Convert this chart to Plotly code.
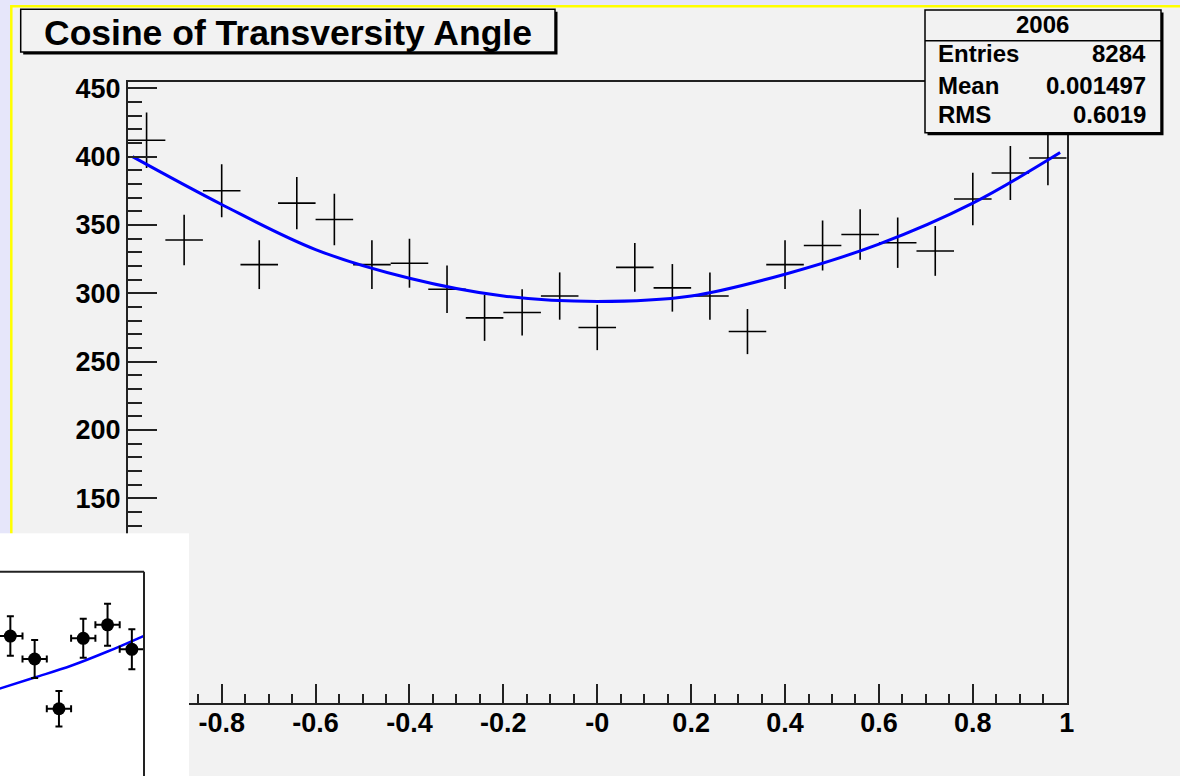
import plotly.graph_objects as go

W, H = 1180, 776


def px(x):
    return x / W


def py(y):
    return 1 - y / H


# ---------------- data ----------------
bin_centers = [-0.96, -0.88, -0.80, -0.72, -0.64, -0.56, -0.48, -0.40, -0.32,
               -0.24, -0.16, -0.08, 0.00, 0.08, 0.16, 0.24, 0.32, 0.40, 0.48,
               0.56, 0.64, 0.72, 0.80, 0.88, 0.96]
counts = [412, 339, 375, 321, 366, 354, 321, 322, 303, 282, 286, 298, 275,
          319, 304, 298, 272, 321, 335, 343, 337, 331, 369, 388, 399]
count_errors = [20.3, 18.4, 19.4, 17.9, 19.1, 18.8, 17.9, 17.9, 17.4, 16.8,
                16.9, 17.3, 16.6, 17.9, 17.4, 17.3, 16.5, 17.9, 18.3, 18.5,
                18.4, 18.2, 19.2, 19.7, 20.0]
bin_half_width = 0.04

fit_x = [-0.99, -0.8, -0.6, -0.4, -0.2, 0.0, 0.2, 0.4, 0.6, 0.8, 0.986]
fit_y = [400, 365, 332, 311, 298, 294, 298, 314, 336, 366, 403]

# labels hidden under the inset box in the reference are left blank
x_tick_vals = [-1, -0.8, -0.6, -0.4, -0.2, 0, 0.2, 0.4, 0.6, 0.8, 1]
x_tick_text = ["", "-0.8", "-0.6", "-0.4", "-0.2", "-0", "0.2", "0.4",
               "0.6", "0.8", "1"]
y_tick_vals = [0, 50, 100, 150, 200, 250, 300, 350, 400, 450]
y_tick_text = ["", "", "", "150", "200", "250", "300", "350", "400", "450"]

title_text = "Cosine of Transversity Angle"
stats_title = "2006"
stats_labels = ["Entries", "Mean", "RMS"]
stats_values = ["8284", "0.001497", "0.6019"]

inset_x = [0.45, 0.55, 0.65, 0.75, 0.85, 0.95]
inset_y = [65.5, 56.3, 36.4, 64.6, 70.0, 60.2]
inset_err = [7.9, 7.6, 7.1, 7.8, 8.4, 8.0]
inset_half_width = 0.05
inset_fit_x = [0.40, 0.55, 0.70, 0.85, 1.0]
inset_fit_y = [44.3, 48.9, 53.6, 59.3, 65.6]

# ---------------- styles ----------------
FONT = "Liberation Sans"
AX = "#222222"
PAD = "#f2f2f2"

fig = go.Figure()

# main histogram (crosses)
fig.add_trace(go.Scatter(
    x=bin_centers, y=counts, mode="markers",
    marker=dict(size=1, color="rgba(0,0,0,0)"),
    error_x=dict(type="constant", value=bin_half_width, width=0,
                 thickness=1.6, color="black"),
    error_y=dict(type="data", array=count_errors, width=0,
                 thickness=1.6, color="black"),
    xaxis="x", yaxis="y", showlegend=False, hoverinfo="skip"))

# main fit curve
fig.add_trace(go.Scatter(
    x=fit_x, y=fit_y, mode="lines",
    line=dict(color="#0000ff", width=3, shape="spline"),
    xaxis="x", yaxis="y", showlegend=False, hoverinfo="skip"))

# inset fit line
fig.add_trace(go.Scatter(
    x=inset_fit_x, y=inset_fit_y, mode="lines",
    line=dict(color="#0000ff", width=2.5, shape="spline"),
    xaxis="x2", yaxis="y2", showlegend=False, hoverinfo="skip"))

# inset points
fig.add_trace(go.Scatter(
    x=inset_x, y=inset_y, mode="markers",
    marker=dict(size=13, color="black"),
    error_x=dict(type="constant", value=inset_half_width, width=3.5,
                 thickness=2, color="black"),
    error_y=dict(type="data", array=inset_err, width=3.5,
                 thickness=2, color="black"),
    xaxis="x2", yaxis="y2", showlegend=False, hoverinfo="skip"))

tickfont = dict(family=FONT, size=27, color="black", weight="bold")

shapes = [
    # pad with yellow border
    dict(type="rect", xref="paper", yref="paper", layer="below",
         x0=px(11.3), x1=px(1200), y0=py(6.2), y1=py(800),
         fillcolor=PAD, line=dict(color="#ffff00", width=2.5)),
    # title box shadow + box
    dict(type="rect", xref="paper", yref="paper", layer="above",
         x0=px(23.2), x1=px(557.5), y0=py(11.8), y1=py(54.5),
         fillcolor="black", line=dict(width=0)),
    dict(type="rect", xref="paper", yref="paper", layer="above",
         x0=px(20.7), x1=px(555), y0=py(9.3), y1=py(52),
         fillcolor=PAD, line=dict(color="black", width=1.5)),
    # stats box shadow + box
    dict(type="rect", xref="paper", yref="paper", layer="above",
         x0=px(927.5), x1=px(1163.5), y0=py(12.5), y1=py(135.2),
         fillcolor="black", line=dict(width=0)),
    dict(type="rect", xref="paper", yref="paper", layer="above",
         x0=px(925), x1=px(1161), y0=py(10), y1=py(132.7),
         fillcolor=PAD, line=dict(color="black", width=1.5)),
    dict(type="line", xref="paper", yref="paper", layer="above",
         x0=px(925), x1=px(1161), y0=py(40.7), y1=py(40.7),
         line=dict(color="black", width=1.5)),
    # inset frame (top and right edges)
    dict(type="line", xref="x2", yref="y2", layer="above",
         x0=0.40, x1=1.0, y0=91.2, y1=91.2, line=dict(color=AX, width=2)),
    dict(type="line", xref="x2", yref="y2", layer="above",
         x0=1.0, x1=1.0, y0=91.2, y1=0, line=dict(color=AX, width=2)),
]

annotations = [
    dict(text=title_text, x=px(288), y=py(33), xref="paper", yref="paper",
         xanchor="center", yanchor="middle", showarrow=False,
         font=dict(family=FONT, size=35.5, color="black", weight="bold")),
    dict(text=stats_title, x=px(1042), y=py(24), xref="paper", yref="paper",
         xanchor="center", yanchor="middle", showarrow=False,
         font=dict(family=FONT, size=24, color="black", weight="bold")),
]
for lab, val, yy in zip(stats_labels, stats_values, [54, 85.5, 114]):
    annotations.append(dict(text=lab, x=px(936.5), y=py(yy), xref="paper",
                            yref="paper", xanchor="left", yanchor="middle",
                            showarrow=False,
                            font=dict(family=FONT, size=24, color="black",
                                      weight="bold")))
    annotations.append(dict(text=val, x=px(1147.5), y=py(yy), xref="paper",
                            yref="paper", xanchor="right", yanchor="middle",
                            showarrow=False,
                            font=dict(family=FONT, size=24, color="black",
                                      weight="bold")))

fig.update_layout(
    template="none",
    width=W, height=H, autosize=False,
    margin=dict(l=0, r=0, t=0, b=0, pad=0),
    paper_bgcolor="#e6e6fa",
    plot_bgcolor="white",
    showlegend=False,
    xaxis=dict(domain=[px(127.8), px(1066.7)], range=[-1, 1], anchor="y",
               tickmode="array", tickvals=x_tick_vals, ticktext=x_tick_text,
               ticks="inside", ticklen=20, tickwidth=1.6, tickcolor=AX,
               showline=True, linecolor=AX, linewidth=1.6, mirror=True,
               showgrid=False, zeroline=False, automargin=False,
               tickfont=tickfont, ticklabelstandoff=-6,
               minor=dict(tickmode="linear", tick0=-1, dtick=0.05,
                          ticks="inside", ticklen=10, tickwidth=1.6,
                          tickcolor=AX, showgrid=False)),
    yaxis=dict(domain=[py(703.3), py(82.3)], range=[0, 454.4], anchor="x",
               tickmode="array", tickvals=y_tick_vals, ticktext=y_tick_text,
               ticks="inside", ticklen=29, tickwidth=1.6, tickcolor=AX,
               showline=True, linecolor=AX, linewidth=1.6, mirror=True,
               showgrid=False, zeroline=False, automargin=False,
               tickfont=tickfont,
               minor=dict(tickmode="linear", tick0=0, dtick=10,
                          ticks="inside", ticklen=14, tickwidth=1.6,
                          tickcolor=AX, showgrid=False)),
    xaxis2=dict(domain=[0, px(189)], range=[0.4074, 1.1852], anchor="y2",
                visible=False, showgrid=False, zeroline=False),
    yaxis2=dict(domain=[0, py(533.3)], range=[9.5, 106.6], anchor="x2",
                visible=False, showgrid=False, zeroline=False),
    shapes=shapes,
    annotations=annotations,
)

fig.write_html("out.html", config=dict(displayModeBar=False))
